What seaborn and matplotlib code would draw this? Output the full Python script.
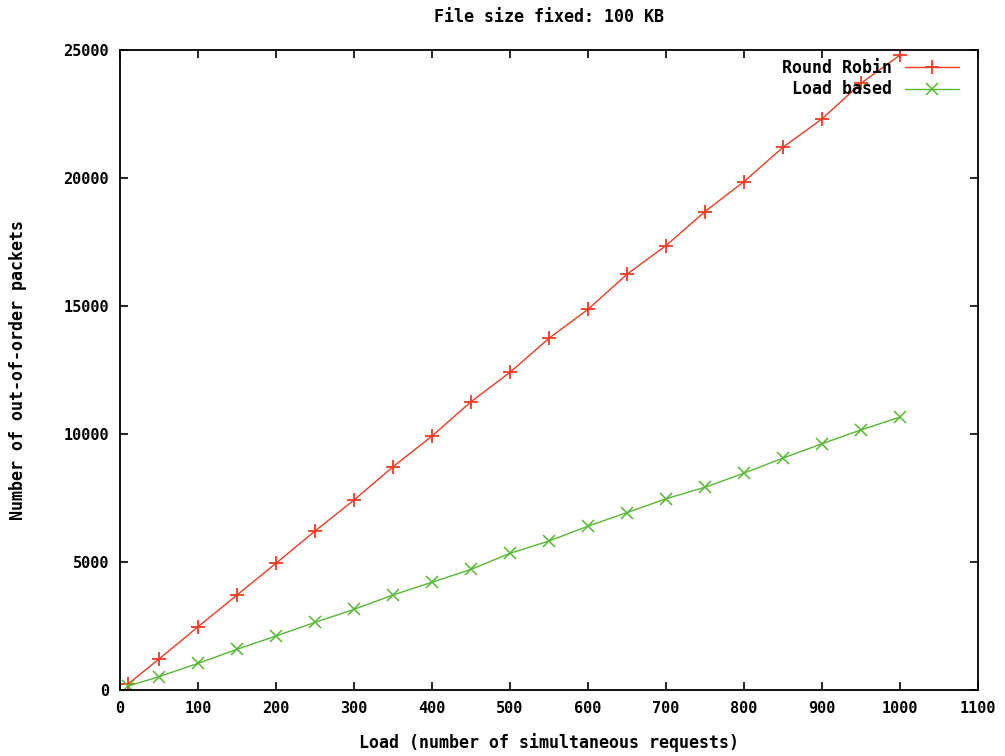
"""Out-of-order packets vs load, gnuplot-like styling."""

import matplotlib
matplotlib.use("Agg")
import matplotlib.pyplot as plt
import pandas as pd
import seaborn as sns

load = [10, 50, 100, 150, 200, 250, 300, 350, 400, 450, 500,
        550, 600, 650, 700, 750, 800, 850, 900, 950, 1000]
round_robin = [230, 1210, 2470, 3710, 4950, 6210, 7420, 8720, 9920, 11260, 12410,
               13740, 14870, 16240, 17360, 18690, 19860, 21200, 22310, 23700, 24800]
load_based = [150, 520, 1040, 1590, 2110, 2640, 3150, 3710, 4210, 4710, 5340,
              5820, 6400, 6930, 7470, 7920, 8470, 9060, 9620, 10160, 10660]

x_ticks = list(range(0, 1101, 100))
y_ticks = list(range(0, 25001, 5000))

RED = "#f03a22"
GREEN = "#55b832"

sns.set_theme(style="ticks")
plt.rcParams["font.family"] = ["DejaVu Sans Mono"]
plt.rcParams["font.weight"] = "bold"
plt.rcParams["text.color"] = "black"
plt.rcParams["axes.labelcolor"] = "black"

df = pd.DataFrame({"load": load, "Round Robin": round_robin, "Load based": load_based})

fig = plt.figure(figsize=(10.05, 7.56), dpi=100)
ax = fig.add_axes([120 / 1005, 1 - 690 / 756, 858 / 1005, 640 / 756])

sns.lineplot(data=df, x="load", y="Round Robin", ax=ax, color=RED, lw=1.0,
             marker="+", markersize=10, markeredgewidth=1.3, markeredgecolor=RED,
             label="Round Robin")
sns.lineplot(data=df, x="load", y="Load based", ax=ax, color=GREEN, lw=1.0,
             marker="x", markersize=8.5, markeredgewidth=1.1, markeredgecolor=GREEN,
             label="Load based")

ax.set_xlim(0, 1100)
ax.set_ylim(0, 25000)
ax.set_xticks(x_ticks)
ax.set_yticks(y_ticks)
ax.tick_params(direction="in", length=6, width=1.2, top=True, right=True,
               labelsize=11, colors="black", pad=8)
for lbl in ax.get_xticklabels() + ax.get_yticklabels():
    lbl.set_fontweight("bold")
for s in ax.spines.values():
    s.set_linewidth(1.3)
    s.set_color("black")

ax.set_xlabel("Load (number of simultaneous requests)", fontsize=12, fontweight="bold", labelpad=12)
ax.set_ylabel("Number of out-of-order packets", fontsize=12, fontweight="bold", labelpad=26)
ax.set_title("File size fixed: 100 KB", fontsize=12, fontweight="bold", pad=20)

leg = ax.legend(loc="upper right", bbox_to_anchor=(0.988, 1.0), frameon=False,
                markerfirst=False, handlelength=3.2, fontsize=12, borderaxespad=0.15,
                labelspacing=0.2, handletextpad=0.8)
for t in leg.get_texts():
    t.set_fontweight("bold")
    t.set_color("black")

fig.savefig("out.png", dpi=100)
